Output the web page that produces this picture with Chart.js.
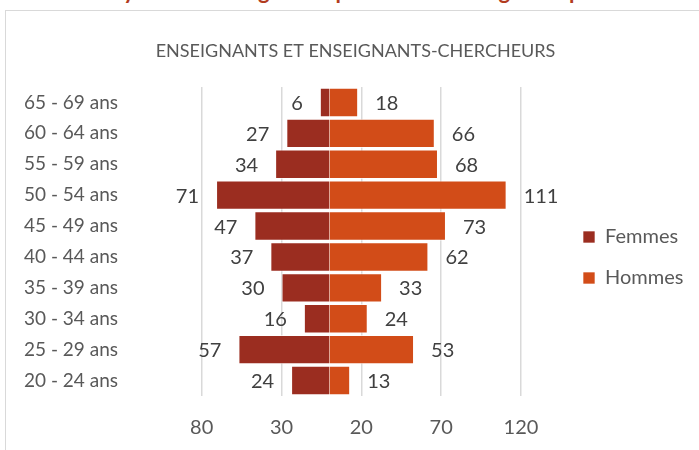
<!DOCTYPE html>
<html>
<head>
<meta charset="utf-8">
<script src="https://cdn.jsdelivr.net/npm/chart.js@4.4.1/dist/chart.umd.min.js"></script>
<style>
  html, body { margin: 0; padding: 0; background: #fff; overflow: hidden; }
  #wrap { position: relative; width: 699px; height: 450px; overflow: hidden; }
  #caption {
    position: absolute; left: 0; top: -20px; white-space: nowrap;
    font: bold 22px Lato, sans-serif; color: #b23c1e; line-height: 22px;
  }
  #frame {
    position: absolute; left: 5px; top: 10px; width: 800px; height: 500px;
    border: 1px solid #d9d9d9; box-sizing: border-box;
  }
  #chart { position: absolute; left: 0; top: 0; }
</style>
</head>
<body>
<div id="wrap">
  <div id="caption">Tableau 3 : Pyramide des âges des personnels enseignants par sexe</div>
  <div id="frame"></div>
  <canvas id="chart" width="699" height="476"></canvas>
</div>
<script>
// age groups, youngest first (axis is reversed so 65 - 69 sits on top)
const ageGroups = ["20 - 24 ans", "25 - 29 ans", "30 - 34 ans", "35 - 39 ans", "40 - 44 ans",
    "45 - 49 ans", "50 - 54 ans", "55 - 59 ans", "60 - 64 ans", "65 - 69 ans"];
const femmes = [24, 57, 16, 30, 37, 47, 71, 34, 27, 6];
const hommes = [13, 53, 24, 33, 62, 73, 111, 68, 66, 18];
const chartTitle = "ENSEIGNANTS ET ENSEIGNANTS-CHERCHEURS";

const FONT = "Lato";
const TEXT = "#595959";

// writes the value next to the end of each bar
const barValues = {
    id: 'barValues',
    afterDatasetsDraw(chart) {
        const ctx = chart.ctx;
        ctx.save();
        ctx.font = "20px " + FONT;
        ctx.fillStyle = "#404040";
        ctx.textBaseline = "middle";
        chart.data.datasets.forEach(function (ds, i) {
            const meta = chart.getDatasetMeta(i);
            meta.data.forEach(function (bar, j) {
                const v = ds.data[j];
                if (v < 0) {
                    ctx.textAlign = "right";
                    ctx.fillText(Math.abs(v), bar.x - 17, bar.y + 1);
                } else {
                    ctx.textAlign = "left";
                    ctx.fillText(v, bar.x + 17, bar.y + 1);
                }
            });
        });
        ctx.restore();
    }
};

new Chart(document.getElementById("chart"), {
    type: "bar",
    data: {
        labels: ageGroups,
        datasets: [{
            label: "Femmes",
            data: femmes.map(v => -v),
            backgroundColor: "#9b2d20",
            borderColor: "rgba(255,255,255,0.65)",
            borderWidth: 1,
            barPercentage: 0.95,
            categoryPercentage: 1
        }, {
            label: "Hommes",
            data: hommes,
            backgroundColor: "#d24c18",
            borderColor: "rgba(255,255,255,0.65)",
            borderWidth: 1,
            barPercentage: 0.95,
            categoryPercentage: 1
        }]
    },
    options: {
        indexAxis: "y",
        responsive: false,
        animation: false,
        layout: { padding: { left: 24, right: 12, top: 10, bottom: 16 } },
        scales: {
            x: {
                stacked: true,
                min: -80,
                max: 120,
                ticks: {
                    stepSize: 50,
                    padding: 20,
                    color: TEXT,
                    font: { family: FONT, size: 20 },
                    callback: v => Math.abs(v)
                },
                grid: { color: "#d9d9d9", lineWidth: 1.5, drawTicks: false },
                border: { display: false }
            },
            y: {
                stacked: true,
                reverse: true,
                ticks: {
                    crossAlign: "far",
                    color: TEXT,
                    font: { family: FONT, size: 19 }
                },
                grid: { display: false, drawTicks: false },
                border: { display: false },
                afterFit(scale) { scale.width = 177.7; }
            },
            // empty axis that only keeps a gap between the bars and the legend
            gap: {
                type: "category",
                position: "right",
                labels: [""],
                ticks: { display: false },
                grid: { display: false, drawTicks: false },
                border: { display: false },
                afterFit(scale) { scale.width = 41; }
            }
        },
        plugins: {
            title: {
                display: true,
                text: chartTitle,
                color: TEXT,
                font: { family: FONT, size: 18, weight: "normal" },
                padding: { top: 30, bottom: 25.4 }
            },
            legend: {
                position: "right",
                maxWidth: 125,
                title: { display: true, text: "", padding: { top: 10, bottom: 11 }, font: { size: 20 } },
                labels: {
                    boxWidth: 12,
                    boxHeight: 12,
                    padding: 21,
                    color: TEXT,
                    font: { family: FONT, size: 20 }
                }
            },
            tooltip: { enabled: false }
        }
    },
    plugins: [barValues]
});
</script>
</body>
</html>
